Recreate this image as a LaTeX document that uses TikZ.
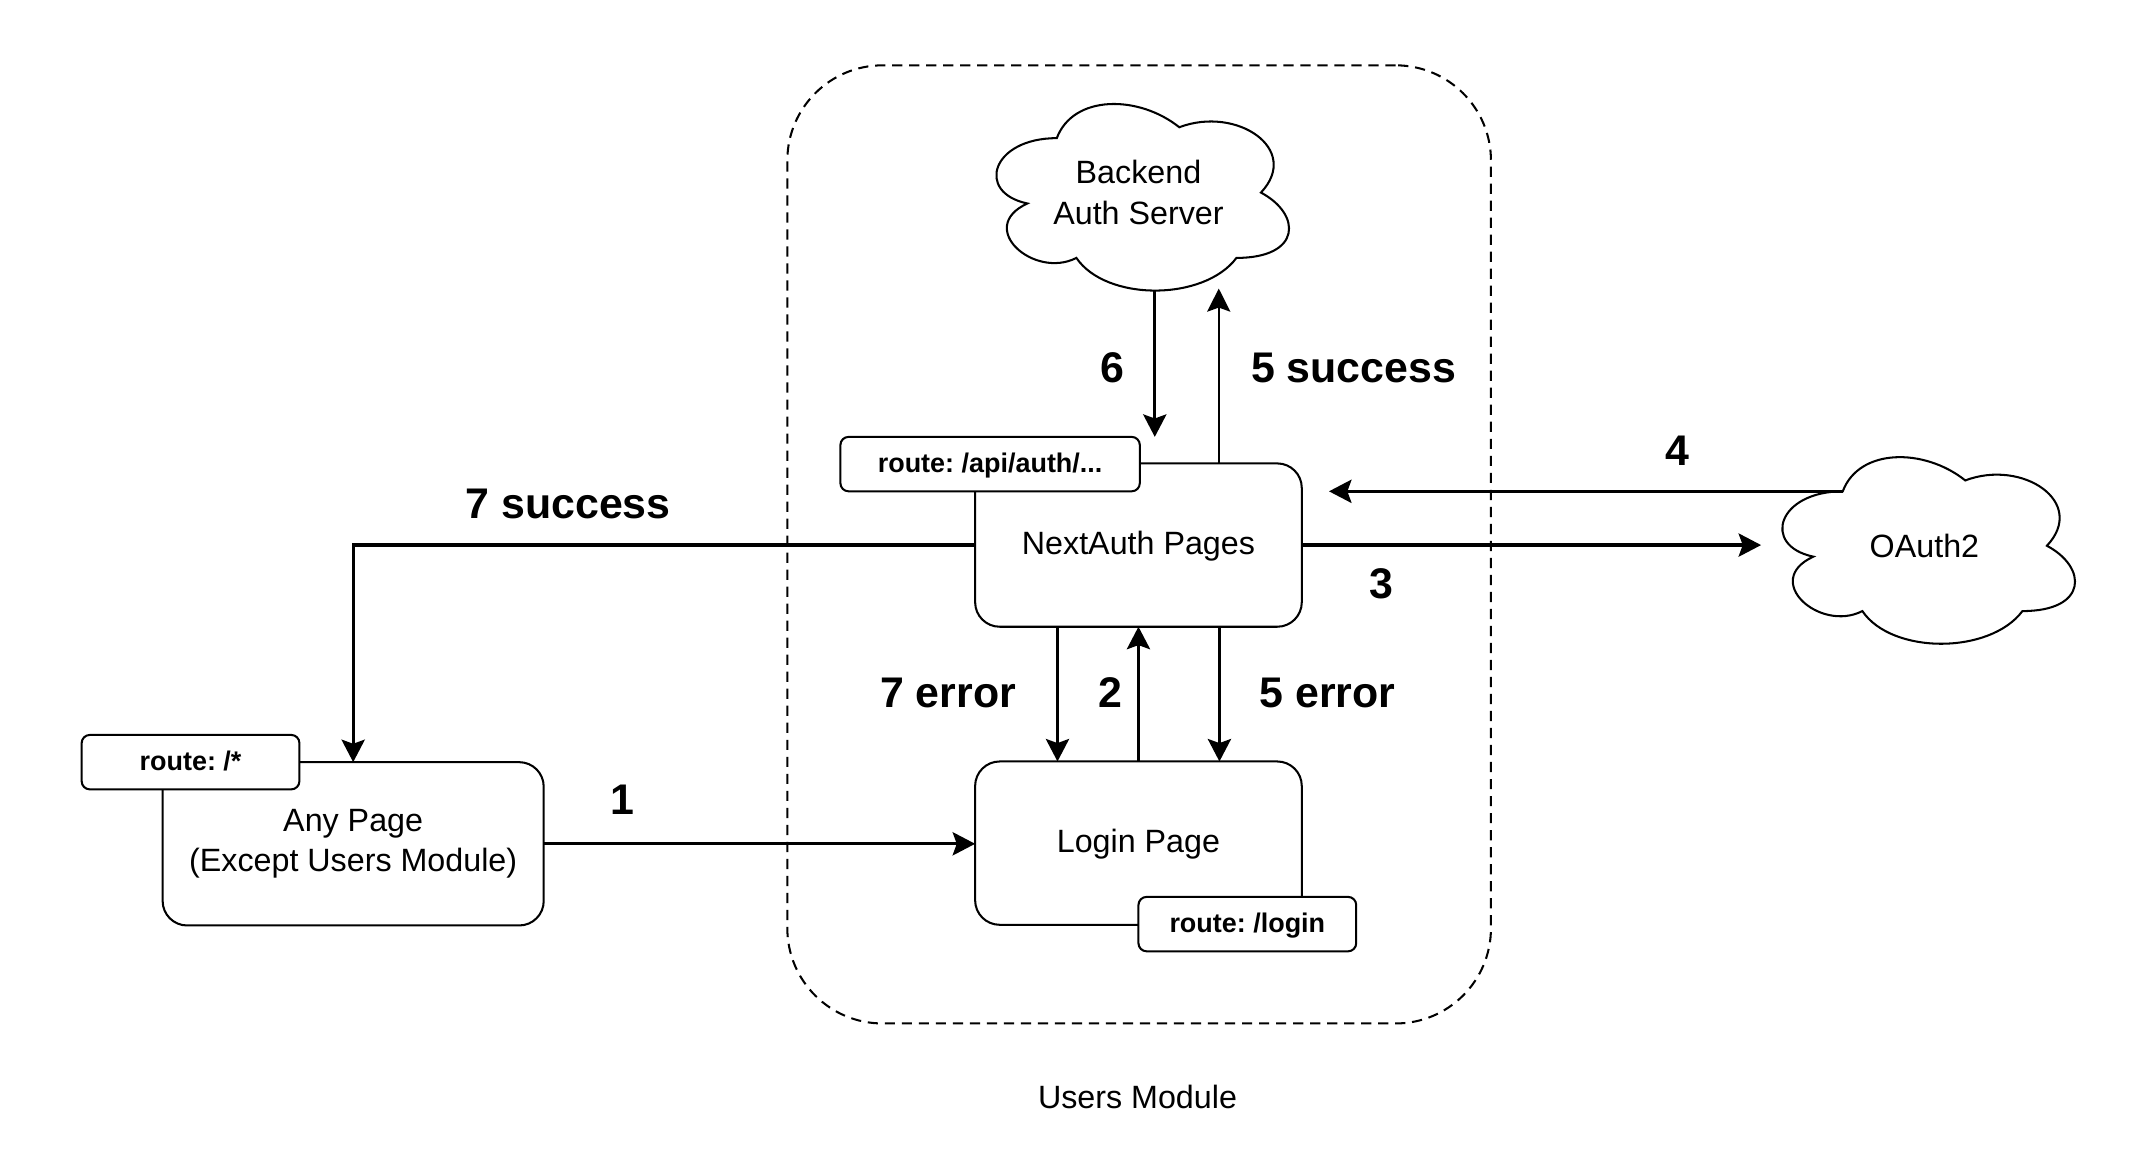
\documentclass[tikz,border=0pt]{standalone}
\usepackage{fontspec}
\setmainfont{Liberation Sans}
\usetikzlibrary{arrows.meta,calc}
\frenchspacing
\newcommand\drawcloudshape[1]{%
  \begin{scope}[shift={(#1.north west)}, x=240pt, y=-160pt]
    \draw[cloudline] (0.25,0.25) .. controls (0.05,0.25) and (0,0.5) .. (0.16,0.55)
      .. controls (0,0.66) and (0.18,0.9) .. (0.31,0.8)
      .. controls (0.4,1) and (0.7,1) .. (0.8,0.8)
      .. controls (1,0.8) and (1,0.6) .. (0.875,0.5)
      .. controls (1,0.3) and (0.8,0.1) .. (0.625,0.2)
      .. controls (0.5,0.05) and (0.3,0.05) .. (0.25,0.25) -- cycle;
  \end{scope}}
\begin{document}
\begin{tikzpicture}[x=1pt,y=-1pt,
  reg/.style={font=\frenchspacing\fontsize{23.7}{29.7}\selectfont},
  lbl/.style={font=\bfseries\fontsize{31.5}{36}\selectfont, anchor=base, inner sep=0pt},
  pagebox/.style={draw, line width=1.5pt, rounded corners=18pt, fill=white, align=center, reg, inner sep=0pt, outer sep=0pt},
  oneline/.style={text height=17pt, text depth=3.2pt},
  routebox/.style={draw, line width=1.5pt, rounded corners=6pt, fill=white, font=\frenchspacing\bfseries\fontsize{19.8}{24}\selectfont, minimum height=40pt, text height=14pt, text depth=2pt, inner sep=0pt, outer sep=0pt},
  cloudnode/.style={minimum width=240pt, minimum height=160pt, inner sep=0pt, outer sep=0pt, align=center, reg},
  cloudline/.style={line width=1.5pt},
  arr/.style={line width=2.4pt, -{Stealth[length=16.5pt,width=17pt,inset=3pt]}},
  thinarr/.style={line width=1.5pt, -{Stealth[length=17pt,width=17pt,inset=3pt]}},
  groupbox/.style={draw, line width=1.5pt, dash pattern=on 7.5pt off 5pt, rounded corners=70pt, inner sep=0pt, outer sep=0pt}
]
\useasboundingbox (0,0) rectangle (1568,849);
\fill[white] (0,0) rectangle (1568,849);

% group container
\node[groupbox, minimum width=517pt, minimum height=704pt] (um) at (837,400) {};
\node[reg, anchor=base] (umlabel) at (835.8,814.6) {Users Module};

% clouds
\node[cloudnode] (bk) at (836.5,141.5) {Backend\\Auth Server};
\drawcloudshape{bk}
\node[cloudnode] (oa) at (1414,401) {OAuth2};
\drawcloudshape{oa}

\coordinate (bkb) at ($(bk.south)+(0,-9.5)$);
\coordinate (o4) at ($(oa.north west)+(60,40)$);

% pages
\node[pagebox, oneline, minimum width=240pt, minimum height=120pt] (na) at (836.5,400.5) {NextAuth Pages};
\node[pagebox, oneline, minimum width=240pt, minimum height=120pt] (lp) at (836.5,619.5) {Login Page};
\node[pagebox, minimum width=280pt, minimum height=120pt] (ap) at (259.5,620) {Any Page\\(Except Users Module)};

\node[routebox, minimum width=220pt] (apiL) at (727.5,341) {route: /api/auth/...};
\node[routebox, minimum width=160pt] (loginL) at (916.5,679) {route: /login};
\node[routebox, minimum width=160pt] (anyL) at (140,560) {route: /*};

\coordinate (e4) at ($(na.east)+(20,0)$);

% connectors
\draw[arr] ($(bk.south)+(12,-7.5)$) coordinate (s6) -- (s6 |- apiL.north);
\draw[thinarr] ($(na.north)+(59,0)$) coordinate (s5) -- (s5 |- bkb);
\draw[arr] (o4) -- (o4 -| e4);
\draw[arr] (na.east) -- (na.east -| oa.west);
\draw[arr] (na.west) -| (ap.north);
\draw[arr] (ap.east) -- (ap.east -| lp.west);
\draw[arr] ($(na.south)+(-59.5,0)$) -- ($(lp.north)+(-59.5,0)$);
\draw[arr] (lp.north) -- (na.south);
\draw[arr] ($(na.south)+(59.5,0)$) -- ($(lp.north)+(59.5,0)$);

% labels
\node[lbl] (l7s) at (417.5,380.8) {7 success};
\node[lbl] (l6) at (817,281.4) {6};
\node[lbl] (l5s) at (994.6,281.4) {5 success};
\node[lbl] (l4) at (1232.5,341.7) {4};
\node[lbl] (l3) at (1014.7,440) {3};
\node[lbl] (l7e) at (696.6,519.7) {7 error};
\node[lbl] (l2) at (816,519.6) {2};
\node[lbl] (l5e) at (975.3,519.5) {5 error};
\node[lbl] (l1) at (457,598.8) {1};
\end{tikzpicture}
\end{document}
